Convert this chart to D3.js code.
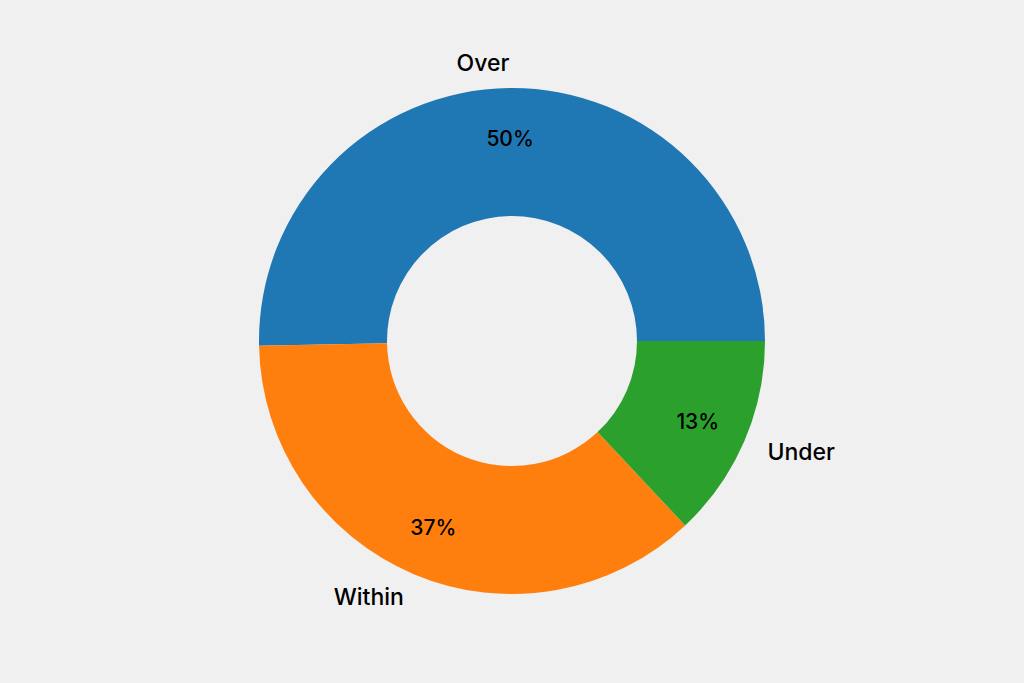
<!DOCTYPE html>
<html>
<head>
<meta charset="utf-8">
<script src="https://cdn.jsdelivr.net/npm/d3@7"></script>
<style>
  body { margin: 0; background: #f0f0f0; }
  svg { display: block; font-family: Inter, "Noto Sans", sans-serif; }
</style>
</head>
<body>
<div id="chart"></div>
<script>
// Data
const categories = ['Over', 'Within', 'Under'];
const values = [50.3, 36.7, 13.0];
const colors = ['#1f77b4', '#ff7f0e', '#2ca02c'];

const width = 1024, height = 683;
const cx = 512, cy = 341;
const outerR = 253, innerR = 125;

const svg = d3.select('#chart').append('svg')
    .attr('width', width)
    .attr('height', height);

svg.append('rect').attr('width', width).attr('height', height).attr('fill', '#f0f0f0');

const g = svg.append('g').attr('transform', `translate(${cx},${cy})`);

const total = d3.sum(values);

// start at 3 o'clock and run counterclockwise
const pie = d3.pie()
    .sort(null)
    .value(d => d)
    .startAngle(Math.PI / 2)
    .endAngle(Math.PI / 2 - 2 * Math.PI);

const arcs = pie(values);

const arc = d3.arc().innerRadius(innerR).outerRadius(outerR);

g.selectAll('path.slice')
    .data(arcs)
    .enter()
    .append('path')
    .attr('class', 'slice')
    .attr('d', arc)
    .attr('fill', (d, i) => colors[i]);

const mid = d => (d.startAngle + d.endAngle) / 2;
const pos = (a, r) => [r * Math.sin(a), -r * Math.cos(a)];

// Percent labels
g.selectAll('text.pct')
    .data(arcs)
    .enter()
    .append('text')
    .attr('class', 'pct')
    .attr('x', d => pos(mid(d), outerR * 0.8)[0])
    .attr('y', d => pos(mid(d), outerR * 0.8)[1])
    .attr('text-anchor', 'middle')
    .attr('dominant-baseline', 'central')
    .attr('font-size', 21)
    .attr('font-weight', 500)
    .attr('fill', '#000')
    .text(d => Math.round(d.value / total * 100) + '%');

// Category labels
g.selectAll('text.cat')
    .data(arcs)
    .enter()
    .append('text')
    .attr('class', 'cat')
    .attr('x', d => pos(mid(d), outerR * 1.1)[0])
    .attr('y', d => pos(mid(d), outerR * 1.1)[1])
    .attr('text-anchor', d => pos(mid(d), 1)[0] < 0 ? 'end' : 'start')
    .attr('dominant-baseline', 'central')
    .attr('font-size', 23)
    .attr('font-weight', 500)
    .attr('fill', '#000')
    .text((d, i) => categories[i]);
</script>
</body>
</html>
